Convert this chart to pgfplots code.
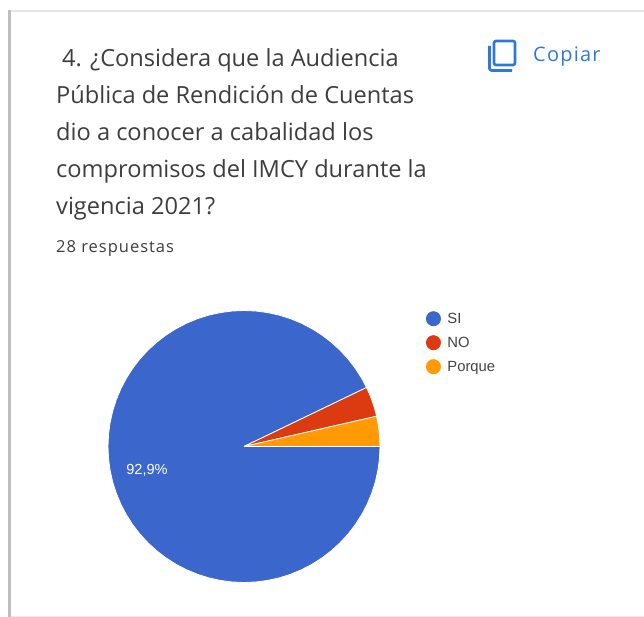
\documentclass[border=0pt]{standalone}
\usepackage{pgfplots}
\usepackage{fontspec}
\setmainfont{Open Sans}
\newfontfamily\legendfont{Liberation Sans}
\usepgfplotslibrary{polar}
\pgfplotsset{compat=1.18}
\definecolor{siblue}{HTML}{3B66CC}
\definecolor{nored}{HTML}{DC3B12}
\definecolor{porqueorange}{HTML}{FF9A05}
\definecolor{copyblue}{HTML}{2F78D8}
\definecolor{titlegray}{HTML}{3E3E3E}
\definecolor{legendgray}{HTML}{444444}
\pgfplotsset{
    slice/.style={fill=#1, draw=white, line width=0.8pt, mark=none, forget plot},
    dot/.style={
        legend image code/.code={
            \path[fill=#1,draw=none] (2pt,0pt) circle (7.5pt);
            \path[draw=none,fill=none] (-8pt,-8pt) rectangle (14pt,8pt);
        },
    },
}
\begin{document}
\begin{tikzpicture}[x=1pt,y=1pt]
% frame in pixel coordinates of the card: texts and icon
\begin{axis}[
    at={(0pt,0pt)},
    anchor=south west,
    scale only axis,
    width=644pt,
    height=617pt,
    xmin=0, xmax=644,
    ymin=0, ymax=617,
    y dir=reverse,
    hide axis,
    clip=false,
]
\fill[white] (axis cs:0,0) rectangle (axis cs:644,617);
\fill[black!10] (axis cs:8,10) rectangle (axis cs:644,12);
\fill[black!25] (axis cs:8,10) rectangle (axis cs:11,617);
\fill[black!8] (axis cs:11,615.5) rectangle (axis cs:644,617);
\node[anchor=base west,inner sep=0,text=titlegray,font=\fontsize{23.6}{26}\selectfont] at (axis cs:62,67) {4. ¿Considera que la Audiencia};
\node[anchor=base west,inner sep=0,text=titlegray,font=\fontsize{23.6}{26}\selectfont] at (axis cs:56,104) {Pública de Rendición de Cuentas};
\node[anchor=base west,inner sep=0,text=titlegray,font=\fontsize{23.6}{26}\selectfont] at (axis cs:56,141) {dio a conocer a cabalidad los};
\node[anchor=base west,inner sep=0,text=titlegray,font=\fontsize{23.6}{26}\selectfont] at (axis cs:56,178) {compromisos del IMCY durante la};
\node[anchor=base west,inner sep=0,text=titlegray,font=\fontsize{23.6}{26}\selectfont] at (axis cs:56,215) {vigencia 2021?};
\node[anchor=base west,inner sep=0,text=titlegray,font=\fontsize{16.5}{18}\selectfont\addfontfeatures{LetterSpace=6}] at (axis cs:56,253) {28 respuestas};
\node[anchor=base west,inner sep=0,text=copyblue,font=\fontsize{20}{22}\selectfont\addfontfeatures{LetterSpace=6}] at (axis cs:533,62) {Copiar};
% copy icon
\draw[copyblue,line width=2.6pt,rounded corners=2pt] (axis cs:494,41) rectangle (axis cs:515,65);
\draw[copyblue,line width=2.6pt,rounded corners=2pt] (axis cs:489.5,46) -- (axis cs:489.5,70.5) -- (axis cs:512,70.5);
\end{axis}
% pie: SI 92,9 %, NO 3,6 %, Porque 3,6 % of 360 degrees
\begin{polaraxis}[
    at={(244pt,170.5pt)},
    anchor=center,
    scale only axis,
    width=272pt,
    height=272pt,
    hide axis,
    clip=false,
    xmin=0, xmax=360,
    ymin=0, ymax=1,
    legend style={
        draw=none, fill=none,
        at={(1.159,1.0)}, anchor=north west,
        font=\legendfont\fontsize{14.8}{17}\selectfont,
        text=legendgray,
        row sep=8pt,
        inner sep=0pt,
        cells={anchor=west},
    },
]
\addplot[slice=siblue] coordinates {
    (0,0) (25.71,1) (30,1) (35,1) (40,1) (45,1) (50,1) (55,1) (60,1) (65,1) (70,1)
    (75,1) (80,1) (85,1) (90,1) (95,1) (100,1) (105,1) (110,1) (115,1) (120,1)
    (125,1) (130,1) (135,1) (140,1) (145,1) (150,1) (155,1) (160,1) (165,1) (170,1)
    (175,1) (180,1) (185,1) (190,1) (195,1) (200,1) (205,1) (210,1) (215,1) (220,1)
    (225,1) (230,1) (235,1) (240,1) (245,1) (250,1) (255,1) (260,1) (265,1) (270,1)
    (275,1) (280,1) (285,1) (290,1) (295,1) (300,1) (305,1) (310,1) (315,1) (320,1)
    (325,1) (330,1) (335,1) (340,1) (345,1) (350,1) (355,1) (360,1) (0,0)
};
\addplot[slice=nored] coordinates {
    (0,0) (12.86,1) (16,1) (19,1) (22,1) (25.71,1) (0,0)
};
\addplot[slice=porqueorange] coordinates {
    (0,0) (0,1) (3,1) (6,1) (9,1) (12.86,1) (0,0)
};
\addlegendimage{dot=siblue}
\addlegendentry{SI}
\addlegendimage{dot=nored}
\addlegendentry{NO}
\addlegendimage{dot=porqueorange}
\addlegendentry{Porque}
\node[text=white,font=\legendfont\fontsize{14.6}{16}\selectfont] at (axis cs:193.9,0.735) {92,9\%};
\end{polaraxis}
\end{tikzpicture}
\end{document}
